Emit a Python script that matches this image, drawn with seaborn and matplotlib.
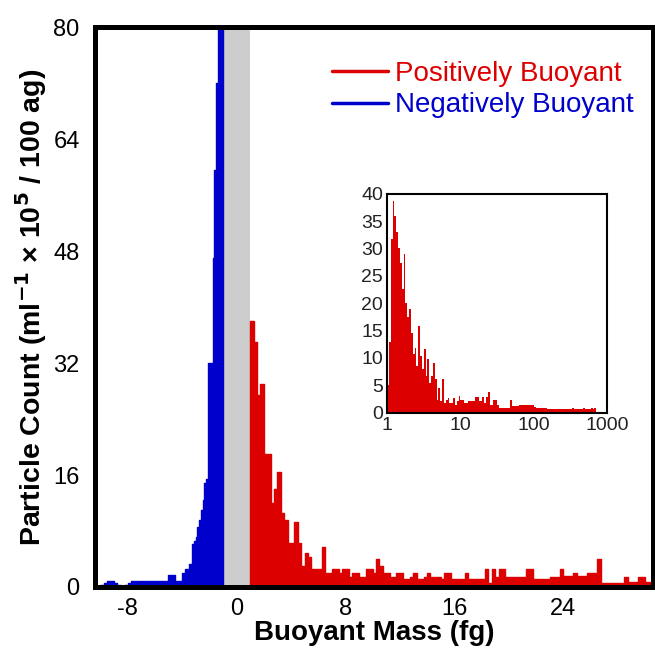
import numpy as np
import pandas as pd
import matplotlib
matplotlib.use("Agg")
import matplotlib.pyplot as plt
from matplotlib.lines import Line2D
import seaborn as sns

sns.set_theme(style="white")
plt.rcParams["font.family"] = ["Liberation Sans", "DejaVu Sans"]
plt.rcParams["axes.unicode_minus"] = False

RED = "#dd0000"
BLUE = "#0000cc"
GREY = "#cccccc"

# ---- negatively buoyant population (fg), coarse tail then fine bins near zero
neg_coarse_start, neg_coarse_step = -10.5, 0.25
neg_fine_start, neg_fine_step, neg_end = -3.5, 0.125, -1.0
neg_counts = [
    0.0, 0.1, 0.3, 0.6, 0.9, 0.8, 0.5, 0.3, 0.1, 0.3, 0.6, 0.8,
    0.8, 0.8, 0.8, 0.8, 0.8, 0.8, 0.8, 0.8, 0.8, 0.8, 1.7, 1.7,
    0.8, 0.8, 2.0, 2.5,
    3.3, 3.3, 6.1, 6.5, 7.2, 8.6, 9.5, 11.0, 12.4, 14.8, 15.5, 32.0,
    32.0, 32.0, 47.0, 59.6, 72.0, 88.0, 105.0, 105.0,
]

# ---- positively buoyant population (fg), 0.25 fg bins from 1 fg
pos_start, pos_step = 1.0, 0.25
pos_counts = [
    38.0, 35.0, 27.5, 29.0, 19.0, 19.0, 12.0, 14.0, 16.5, 10.5,
    9.5, 6.3, 6.3, 9.3, 6.3, 3.0, 4.8, 4.3, 2.6, 2.6,
    2.6, 5.7, 2.0, 2.0, 2.6, 2.6, 2.0, 2.6, 2.6, 1.4,
    2.0, 2.0, 1.4, 1.4, 2.6, 2.6, 2.0, 4.0, 3.0, 2.0,
    2.0, 1.4, 1.4, 2.0, 2.0, 1.2, 1.2, 1.4, 2.0, 1.2,
    1.2, 1.4, 2.0, 1.4, 1.4, 1.4, 1.2, 2.0, 2.0, 1.2,
    1.2, 1.2, 1.2, 2.0, 1.2, 1.2, 1.2, 1.2, 1.2, 2.6,
    0.6, 2.6, 1.4, 2.6, 2.6, 1.4, 1.4, 1.4, 1.4, 1.4,
    1.4, 2.6, 2.6, 1.2, 1.2, 1.2, 1.2, 1.2, 1.4, 1.4,
    1.4, 2.6, 1.6, 1.6, 1.6, 2.0, 1.6, 1.6, 1.6, 2.0,
    2.0, 2.0, 4.0, 0.5, 0.5, 0.5, 0.5, 0.5, 0.5, 0.5,
    1.4, 0.7, 0.7, 0.7, 1.4, 1.4, 0.7, 0.7, 1.2, 1.2,
    1.2,
]

# ---- positively buoyant population on log-spaced bins (inset)
log_start, log_step = 0.0, 0.025
log_counts = [
    5.0, 13.0, 31.7, 38.7, 36.0, 33.0, 30.0, 27.4, 22.6, 29.0,
    20.0, 17.4, 18.9, 14.6, 10.7, 11.9, 8.5, 15.9, 10.4, 7.9,
    11.6, 6.7, 9.8, 5.5, 6.7, 9.1, 6.1, 2.4, 4.6, 2.1,
    6.1, 1.8, 2.4, 2.7, 1.8, 1.8, 2.7, 1.5, 2.1, 3.0,
    2.4, 2.4, 1.8, 1.8, 2.1, 2.1, 2.1, 2.1, 2.9, 2.9,
    2.1, 2.1, 2.9, 1.8, 2.9, 3.8, 1.5, 1.5, 2.4, 2.4,
    1.5, 0.9, 0.9, 0.9, 0.9, 0.9, 0.9, 2.3, 1.2, 1.2,
    1.2, 1.2, 1.5, 1.5, 1.5, 1.5, 1.5, 1.5, 1.5, 1.5,
    1.0, 0.85, 0.85, 0.85, 0.85, 0.85, 0.85, 0.7, 0.7, 0.7,
    0.7, 0.7, 0.7, 0.7, 0.6, 0.6, 0.6, 0.7, 0.6, 0.7,
    0.7, 0.8, 0.7, 0.6, 0.7, 0.7, 0.7, 0.8, 0.7, 0.7,
    0.6, 0.8, 0.7, 0.9,
]

band_lo, band_hi = -1.0, 1.0
x_ticks = [-8, 0, 8, 16, 24]
y_ticks = [0, 16, 32, 48, 64, 80]
inset_x_ticks = [1, 10, 100, 1000]
inset_y_ticks = [0, 5, 10, 15, 20, 25, 30, 35, 40]

# bin edges / centres
neg_edges = np.r_[np.arange(neg_coarse_start, neg_fine_start, neg_coarse_step),
                  np.arange(neg_fine_start, neg_end + 1e-9, neg_fine_step)]
neg_df = pd.DataFrame({"mass": 0.5 * (neg_edges[:-1] + neg_edges[1:]),
                       "count": neg_counts})
pos_edges = pos_start + pos_step * np.arange(len(pos_counts) + 1)
pos_df = pd.DataFrame({"mass": 0.5 * (pos_edges[:-1] + pos_edges[1:]),
                       "count": pos_counts})
log_edges = 10 ** (log_start + log_step * np.arange(len(log_counts) + 1))
log_df = pd.DataFrame({"mass": np.sqrt(log_edges[:-1] * log_edges[1:]),
                       "count": log_counts})

fig = plt.figure(figsize=(6.55, 6.5), dpi=100)
ax = fig.add_axes([0.145, 0.097, 0.852, 0.861])

ax.axvspan(band_lo, band_hi, color=GREY, lw=0, zorder=0)
sns.histplot(data=neg_df, x="mass", weights="count", bins=list(neg_edges),
             element="step", fill=True, color=BLUE, alpha=1, linewidth=1.0, ax=ax)
sns.histplot(data=pos_df, x="mass", weights="count", bins=list(pos_edges),
             element="step", fill=True, color=RED, alpha=1, linewidth=1.0, ax=ax)

ax.set_xlim(-10.4, 30.6)
ax.set_ylim(0, 80)
ax.set_xticks(x_ticks)
ax.set_yticks(y_ticks)
ax.tick_params(length=0, labelsize=17, colors="black")
ax.tick_params(axis="y", pad=11)
ax.tick_params(axis="x", pad=8)
for s in ax.spines.values():
    s.set_color("black")
    s.set_linewidth(3.6)
ax.set_xlabel("Buoyant Mass (fg)", fontsize=20, fontweight="bold", labelpad=0,
              color="black")
ax.set_ylabel("Particle Count (ml$^{\\mathbf{-1}}$ × 10$^{\\mathbf{5}}$ / 100 ag)",
              fontsize=20.5, fontweight="bold", labelpad=3, color="black")

handles = [Line2D([0], [0], color=RED, lw=2.5), Line2D([0], [0], color=BLUE, lw=2.5)]
ax.legend(handles, ["Positively Buoyant", "Negatively Buoyant"], loc="upper right",
          bbox_to_anchor=(1.0, 0.975), frameon=False, fontsize=20,
          labelcolor=[RED, BLUE], handlelength=2.0, handletextpad=0.25,
          labelspacing=0.2, borderaxespad=0.3)

# inset: positive population on a log mass axis
axin = fig.add_axes([0.591, 0.365, 0.336, 0.337])
sns.histplot(data=log_df, x="mass", weights="count", bins=list(log_edges),
             element="bars", fill=True, color=RED, alpha=1,
             linewidth=0, ax=axin)
axin.set_xscale("log")
axin.set_xlim(1, 1000)
axin.set_ylim(0, 40)
axin.set_xticks(inset_x_ticks)
axin.set_xticklabels([str(v) for v in inset_x_ticks])
axin.minorticks_off()
axin.set_yticks(inset_y_ticks)
axin.tick_params(length=0, labelsize=14, pad=3, colors="#222222")
axin.set_xlabel("")
axin.set_ylabel("")
for s in axin.spines.values():
    s.set_color("black")
    s.set_linewidth(1.5)

fig.savefig("out.png", dpi=100)
